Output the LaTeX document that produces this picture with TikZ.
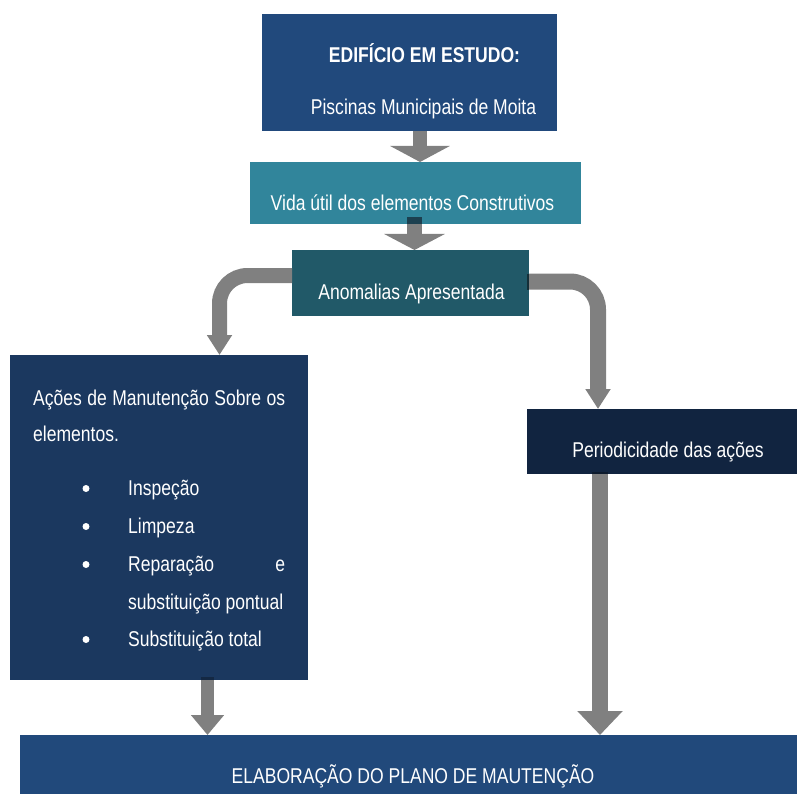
\documentclass[tikz,border=0pt]{standalone}
\usepackage{fontspec}
\setmainfont{Liberation Sans}[FakeStretch=0.82]
\usetikzlibrary{arrows.meta,calc}
\definecolor{cA}{HTML}{21497C}
\definecolor{cB}{HTML}{31859B}
\definecolor{cC}{HTML}{215968}
\definecolor{cD}{HTML}{1B385F}
\definecolor{cE}{HTML}{112440}
\definecolor{cF}{HTML}{21497B}
\definecolor{oB}{HTML}{1C4050}
\definecolor{oC}{HTML}{142F38}
\definecolor{oD}{HTML}{142843}
\definecolor{oE}{HTML}{0C1A2C}
\definecolor{arrowgray}{HTML}{808080}
\begin{document}
\begin{tikzpicture}[x=1pt,y=-1pt,
  box/.style={draw=none,inner sep=0pt,outer sep=0pt,rectangle,anchor=north west},
  txt/.style={text=white,font=\fontsize{21.4}{25}\selectfont,anchor=base,inner sep=0pt},
  ltxt/.style={txt,anchor=base west},
  dot/.style={circle,fill=white,inner sep=0pt,minimum size=7pt},
  arr/.style={draw=arrowgray,line width=#1}]
\useasboundingbox (0,0) rectangle (797,794);
% boxes
\node[box,fill=cA,minimum width=295pt,minimum height=117pt] (b1) at (262,14) {};
\node[box,fill=cB,minimum width=331pt,minimum height=62pt] (b2) at (250,162) {};
\node[box,fill=cC,minimum width=237pt,minimum height=66pt] (b3) at (292,250) {};
\node[box,fill=cD,minimum width=298pt,minimum height=325pt] (b4) at (10,355) {};
\node[box,fill=cE,minimum width=270pt,minimum height=65pt] (b5) at (527,409) {};
\node[box,fill=cF,minimum width=777pt,minimum height=70pt] (b6) at (20,735) {};
% arrows
\coordinate (a1s) at ($(b1.south)+(10.5,0)$);
\draw[arr=14pt,-{Triangle[width=59pt,length=16pt]}] (a1s) -- (a1s |- b2.north);
\coordinate (a2s) at ($(b2.south)+(-1,0)$);
\draw[arr=15pt,-{Triangle[width=60pt,length=16pt]}] (a2s) -- (a2s |- b3.north);
\draw[draw=oB,line width=15pt] (a2s) -- ++(0,-7);
\coordinate (lcs) at ($(b3.west)+(0,-7.5)$);
\coordinate (lct) at ($(b4.north)+(60.5,0)$);
\draw[arr=15pt,rounded corners=28pt,-{Triangle[width=24pt,length=20pt]}] (lcs) -| (lct);
\coordinate (rcs) at ($(b3.east)+(0,-1.5)$);
\coordinate (rct) at ($(b5.north)+(-64,0)$);
\draw[arr=16pt,rounded corners=28pt,-{Triangle[width=24pt,length=20pt]}] (rcs) -| (rct);
\draw[draw=oC,line width=16pt] (rcs) -- ++(-2,0);
\coordinate (bls) at ($(b4.south)+(48.5,0)$);
\draw[arr=13pt,-{Triangle[width=32pt,length=20pt]}] (bls) -- (bls |- b6.north);
\draw[draw=oD,line width=13pt] (bls) -- ++(0,-3);
\coordinate (brs) at ($(b5.south)+(-62,0)$);
\draw[arr=16pt,-{Triangle[width=44pt,length=24pt]}] (brs) -- (brs |- b6.north);
\draw[draw=oE,line width=16pt] (brs) -- ++(0,-2);
% texts
\node[txt,font=\fontsize{21.4}{25}\selectfont\bfseries] (t1) at (424.5,62.5) {EDIFÍCIO EM ESTUDO:};
\node[txt] (t2) at (423.5,114.5) {Piscinas Municipais de Moita};
\node[txt] (t3) at (412.5,210.5) {Vida útil dos elementos Construtivos};
\node[txt] (t4) at (411.5,299.5) {Anomalias Apresentada};
\node[txt] (t5) at (668,457.5) {Periodicidade das ações};
\node[txt] (t6) at (413,783) {ELABORAÇÃO DO PLANO DE MAUTENÇÃO};
\node[ltxt] (l1) at (33,405.5) {\makebox[252pt][s]{Ações de Manutenção Sobre os}};
\node[ltxt] (l2) at (33,441) {elementos.};
\node[dot] (p1) at (86,488.5) {};
\node[ltxt] (l3) at (128,495) {Inspeção};
\node[dot] (p2) at (86,526.5) {};
\node[ltxt] (l4) at (128,533) {Limpeza};
\node[dot] (p3) at (86,564.5) {};
\node[ltxt] (l5) at (128,571) {\makebox[157pt][s]{Reparação e}};
\node[ltxt] (l6) at (128,609) {substituição pontual};
\node[dot] (p4) at (86,639.5) {};
\node[ltxt] (l7) at (128,646) {Substituição total};
\end{tikzpicture}
\end{document}
